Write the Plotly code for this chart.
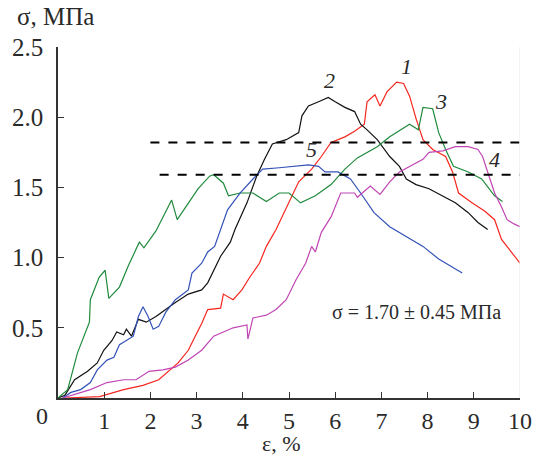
import plotly.graph_objects as go

# ---- data ----
red_x = [0.1, 0.15, 0.9, 1.42, 1.84, 2.18, 2.6, 2.82, 2.97, 3.11, 3.24, 3.52, 3.58, 3.79, 3.98, 4.15, 4.36, 4.51, 4.72, 4.79, 5.0, 5.21, 5.49, 5.7, 5.91, 6.21, 6.42, 6.63, 6.69, 6.86, 6.97, 7.12, 7.33, 7.48, 7.61, 7.75, 7.9, 8.11, 8.39, 8.54, 8.67, 8.96, 9.24, 9.45, 9.6, 9.81, 10.0]
red_y = [0, 0.0, 0.01, 0.06, 0.09, 0.13, 0.25, 0.34, 0.44, 0.53, 0.63, 0.64, 0.74, 0.70, 0.77, 0.86, 0.96, 1.08, 1.20, 1.25, 1.39, 1.54, 1.63, 1.72, 1.82, 1.86, 1.90, 1.95, 2.11, 2.16, 2.08, 2.18, 2.25, 2.24, 2.15, 1.99, 1.84, 1.77, 1.72, 1.61, 1.46, 1.39, 1.33, 1.27, 1.13, 1.04, 0.96]

black_x = [0, 0.15, 0.36, 0.64, 0.85, 0.99, 1.17, 1.27, 1.42, 1.48, 1.59, 1.74, 1.91, 2.12, 2.33, 2.54, 2.82, 3.11, 3.24, 3.37, 3.52, 3.73, 3.83, 4.09, 4.3, 4.47, 4.64, 4.94, 5.21, 5.28, 5.42, 5.64, 5.85, 6.0, 6.21, 6.42, 6.55, 6.69, 6.91, 7.18, 7.39, 7.54, 7.75, 8.03, 8.33, 8.6, 8.88, 9.09, 9.3]
black_y = [0, 0.02, 0.13, 0.19, 0.25, 0.34, 0.41, 0.47, 0.45, 0.49, 0.44, 0.56, 0.54, 0.58, 0.63, 0.68, 0.74, 0.77, 0.82, 0.91, 1.01, 1.11, 1.20, 1.39, 1.58, 1.70, 1.81, 1.84, 1.89, 2.01, 2.08, 2.11, 2.14, 2.11, 2.07, 2.04, 1.95, 1.91, 1.84, 1.72, 1.65, 1.56, 1.52, 1.49, 1.44, 1.39, 1.32, 1.25, 1.20]

green_x = [0, 0.21, 0.42, 0.68, 0.7, 0.89, 1.02, 1.1, 1.33, 1.52, 1.76, 1.86, 2.12, 2.33, 2.46, 2.58, 2.82, 3.03, 3.28, 3.37, 3.58, 3.69, 3.94, 4.22, 4.51, 4.79, 5.0, 5.25, 5.57, 5.91, 6.21, 6.48, 6.91, 7.18, 7.61, 7.8, 7.9, 8.11, 8.24, 8.39, 8.56, 8.88, 9.17, 9.45, 9.62]
green_y = [0, 0.06, 0.32, 0.54, 0.70, 0.86, 0.91, 0.71, 0.79, 0.94, 1.11, 1.07, 1.19, 1.32, 1.41, 1.27, 1.39, 1.49, 1.58, 1.59, 1.53, 1.44, 1.46, 1.46, 1.40, 1.46, 1.46, 1.39, 1.44, 1.52, 1.63, 1.71, 1.79, 1.86, 1.95, 1.91, 2.07, 2.06, 1.89, 1.77, 1.65, 1.61, 1.56, 1.44, 1.40]

blue_x = [0.1, 0.28, 0.49, 0.7, 0.85, 1.06, 1.21, 1.33, 1.48, 1.63, 1.74, 1.84, 1.95, 2.06, 2.18, 2.33, 2.54, 2.82, 2.9, 3.11, 3.24, 3.39, 3.67, 3.94, 4.22, 4.43, 4.79, 5.15, 5.42, 5.64, 5.78, 6.06, 6.33, 6.55, 6.84, 7.18, 7.54, 7.9, 8.24, 8.54, 8.75]
blue_y = [0, 0.04, 0.06, 0.11, 0.20, 0.27, 0.29, 0.38, 0.41, 0.44, 0.58, 0.65, 0.58, 0.49, 0.51, 0.61, 0.70, 0.77, 0.89, 0.96, 1.04, 1.08, 1.34, 1.46, 1.56, 1.63, 1.64, 1.65, 1.66, 1.65, 1.61, 1.61, 1.56, 1.46, 1.32, 1.22, 1.15, 1.08, 0.99, 0.93, 0.89]

magenta_x = [0.1, 0.7, 1.06, 1.42, 1.69, 1.97, 2.27, 2.54, 2.82, 3.11, 3.37, 3.79, 4.09, 4.11, 4.22, 4.51, 4.72, 4.94, 5.15, 5.36, 5.49, 5.57, 5.7, 5.91, 6.12, 6.42, 6.48, 6.76, 6.97, 7.18, 7.39, 7.61, 7.9, 8.03, 8.33, 8.6, 8.88, 9.09, 9.19, 9.3, 9.45, 9.6, 9.72, 9.87, 10.0]
magenta_y = [0, 0.06, 0.11, 0.13, 0.13, 0.19, 0.20, 0.22, 0.27, 0.34, 0.44, 0.50, 0.52, 0.42, 0.57, 0.59, 0.63, 0.70, 0.84, 0.96, 1.08, 1.04, 1.18, 1.29, 1.46, 1.46, 1.43, 1.51, 1.45, 1.54, 1.61, 1.65, 1.70, 1.75, 1.76, 1.79, 1.79, 1.77, 1.72, 1.61, 1.46, 1.36, 1.27, 1.24, 1.22]

dash_levels = [1.82, 1.59]
dash_starts = [2.0, 2.2]
dash_end = 10.0

curve_labels = ["1", "2", "3", "4", "5"]
label_x = [7.54, 5.87, 8.28, 9.45, 5.49]
label_y = [2.36, 2.26, 2.11, 1.70, 1.77]

x_ticks = [0, 1, 2, 3, 4, 5, 6, 7, 8, 9, 10]
y_ticks = [0.5, 1.0, 1.5, 2.0, 2.5]
y_ticktext = ["0.5", "1.0", "1.5", "2.0", "2.5"]

FONT = "Liberation Serif"
TXT = "#2a2a2a"
TICKFONT = dict(family=FONT, size=25, color=TXT)
XTICKFONT = dict(family=FONT, size=24, color=TXT)

fig = go.Figure()

series = [
    (red_x, red_y, "#f5261e"),
    (black_x, black_y, "#111111"),
    (green_x, green_y, "#1f8a3c"),
    (blue_x, blue_y, "#3352b8"),
    (magenta_x, magenta_y, "#c045b4"),
]
for xs, ys, col in series:
    fig.add_trace(go.Scatter(x=xs, y=ys, mode="lines",
                             line=dict(color=col, width=1.2),
                             showlegend=False, hoverinfo="skip"))

for lvl, x0 in zip(dash_levels, dash_starts):
    fig.add_trace(go.Scatter(x=[x0, dash_end], y=[lvl, lvl], mode="lines",
                             line=dict(color="black", width=2, dash="dash"),
                             showlegend=False, hoverinfo="skip"))

for t, lx, ly in zip(curve_labels, label_x, label_y):
    fig.add_annotation(x=lx, y=ly, xref="x", yref="y", text=f"<i>{t}</i>",
                       showarrow=False, font=dict(family=FONT, size=22, color=TXT))

fig.add_annotation(x=7.75, y=0.61, xref="x", yref="y",
                   text="σ = 1.70 ± 0.45 МПа", showarrow=False,
                   font=dict(family=FONT, size=20, color=TXT))

# origin "0" label shifted left
fig.add_annotation(x=0, y=0, xref="x", yref="y", text="0", showarrow=False,
                   xshift=-16, yshift=-18, font=XTICKFONT)

W, H = 544, 458
L, R, T, B = 54, 18, 47, 60
PW, PH = W - L - R, H - T - B

# axis titles (positions in page pixels converted to paper fractions)
fig.add_annotation(x=(10 - L) / PW, y=1 - (16 - T) / PH, xref="paper", yref="paper",
                   text="σ, МПа", showarrow=False, xanchor="left", yanchor="middle",
                   font=dict(family=FONT, size=25, color=TXT))
fig.add_annotation(x=(282 - L) / PW, y=1 - (458 - T) / PH, xref="paper", yref="paper",
                   text="ε, %", showarrow=False, xanchor="center", yanchor="bottom",
                   font=dict(family=FONT, size=22, color=TXT))

# light right border
fig.add_shape(type="line", xref="x", yref="y", x0=10, x1=10, y0=0, y1=2.5,
              line=dict(color="#e6e6e6", width=1))

fig.update_layout(
    width=W, height=H,
    margin=dict(l=L, r=R, t=T, b=B),
    paper_bgcolor="white", plot_bgcolor="white",
    font=dict(family=FONT, size=25, color=TXT),
    xaxis=dict(range=[0, 10], tickvals=x_ticks,
               ticktext=[""] + [str(v) for v in x_ticks[1:]],
               tickfont=XTICKFONT,
               ticks="inside", ticklen=6, tickcolor="#333", showgrid=False,
               zeroline=False, showline=True, linecolor="#333", linewidth=1.5,
               ticklabelstandoff=0),
    yaxis=dict(range=[0, 2.5], tickvals=y_ticks, ticktext=y_ticktext,
               tickfont=TICKFONT,
               ticks="inside", ticklen=6, tickcolor="#333", showgrid=False,
               zeroline=False, showline=True, linecolor="#333", linewidth=1.5,
               ticklabelstandoff=8),
)

fig.write_html("out.html")
